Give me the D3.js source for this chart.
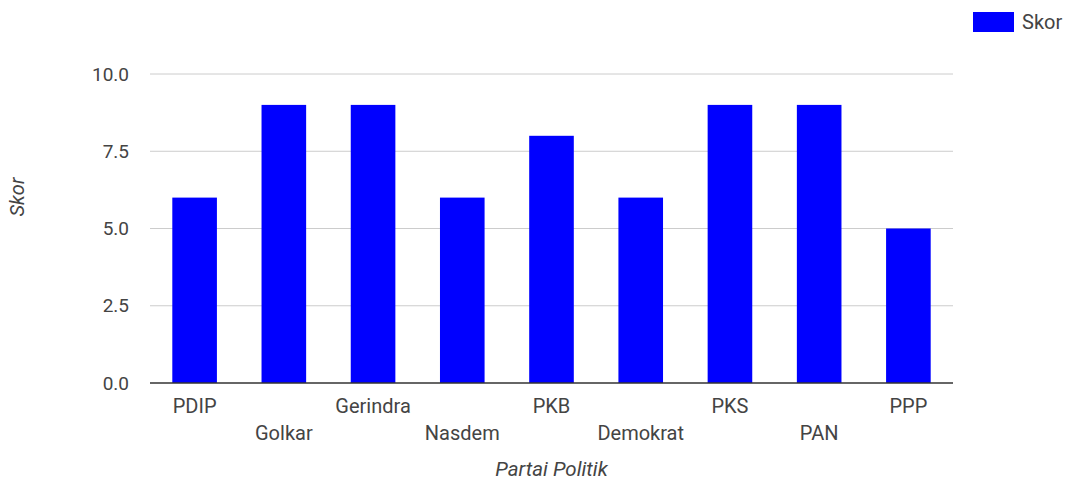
<!DOCTYPE html>
<html><head><meta charset="utf-8">
<script src="https://cdn.jsdelivr.net/npm/d3@7"></script>
<style>body{margin:0;background:#fff;}svg{display:block;font-family:Roboto,Arial,sans-serif;}</style>
</head><body>
<script>
const categories = ["PDIP","Golkar","Gerindra","Nasdem","PKB","Demokrat","PKS","PAN","PPP"];
const skor = [6,9,9,6,8,6,9,9,5];
const yTicks = [0,2.5,5,7.5,10];
const seriesName = "Skor";

const W = 1069, H = 480;
const m = {left:150, right:116, top:74, bottom:97};
const svg = d3.select("body").append("svg").attr("width",W).attr("height",H);

const x = d3.scaleBand().domain(categories).range([m.left, W-m.right]).paddingInner(0.5).paddingOuter(0.25);
const y = d3.scaleLinear().domain([0,10]).range([H-m.bottom, m.top]);

// grid
svg.append("g").selectAll("line").data(yTicks.filter(d=>d>0)).join("line")
  .attr("x1",m.left).attr("x2",W-m.right)
  .attr("y1",d=>y(d)).attr("y2",d=>y(d))
  .attr("stroke","#cccccc").attr("stroke-width",1);

// y tick labels
const yAxis = svg.append("g").attr("transform",`translate(${m.left},0)`)
  .call(d3.axisLeft(y).tickValues(yTicks).tickFormat(d3.format(".1f")).tickSize(0).tickPadding(21));
yAxis.select(".domain").remove();
yAxis.selectAll("text").attr("font-size",19).attr("fill","#444").attr("font-family","Roboto,Arial,sans-serif");

// bars
svg.append("g").selectAll("rect").data(categories).join("rect")
  .attr("x",d=>x(d)).attr("width",x.bandwidth())
  .attr("y",(d,i)=>y(skor[i])).attr("height",(d,i)=>y(0)-y(skor[i]))
  .attr("fill","#0000ff");

// baseline
svg.append("line").attr("x1",m.left).attr("x2",W-m.right).attr("y1",y(0)).attr("y2",y(0))
  .attr("stroke","#333").attr("stroke-width",1.3);

// x labels (staggered)
svg.append("g").selectAll("text").data(categories).join("text")
  .attr("x",d=>x(d)+x.bandwidth()/2)
  .attr("y",(d,i)=> i%2===0 ? 413 : 440)
  .attr("text-anchor","middle").attr("font-size",20).attr("fill","#444")
  .text(d=>d);

// axis titles
svg.append("text").attr("x",(m.left+W-m.right)/2).attr("y",476)
  .attr("text-anchor","middle").attr("font-size",20.5).attr("font-style","italic").attr("fill","#444")
  .text("Partai Politik");
svg.append("text").attr("transform","translate(24,197) rotate(-90)")
  .attr("text-anchor","middle").attr("font-size",20).attr("font-style","italic").attr("fill","#444")
  .text("Skor");

// legend
svg.append("rect").attr("x",973).attr("y",12).attr("width",41).attr("height",20).attr("fill","#0000ff");
svg.append("text").attr("x",1022).attr("y",29).attr("font-size",20).attr("fill","#444").text(seriesName);
</script>
</body></html>
